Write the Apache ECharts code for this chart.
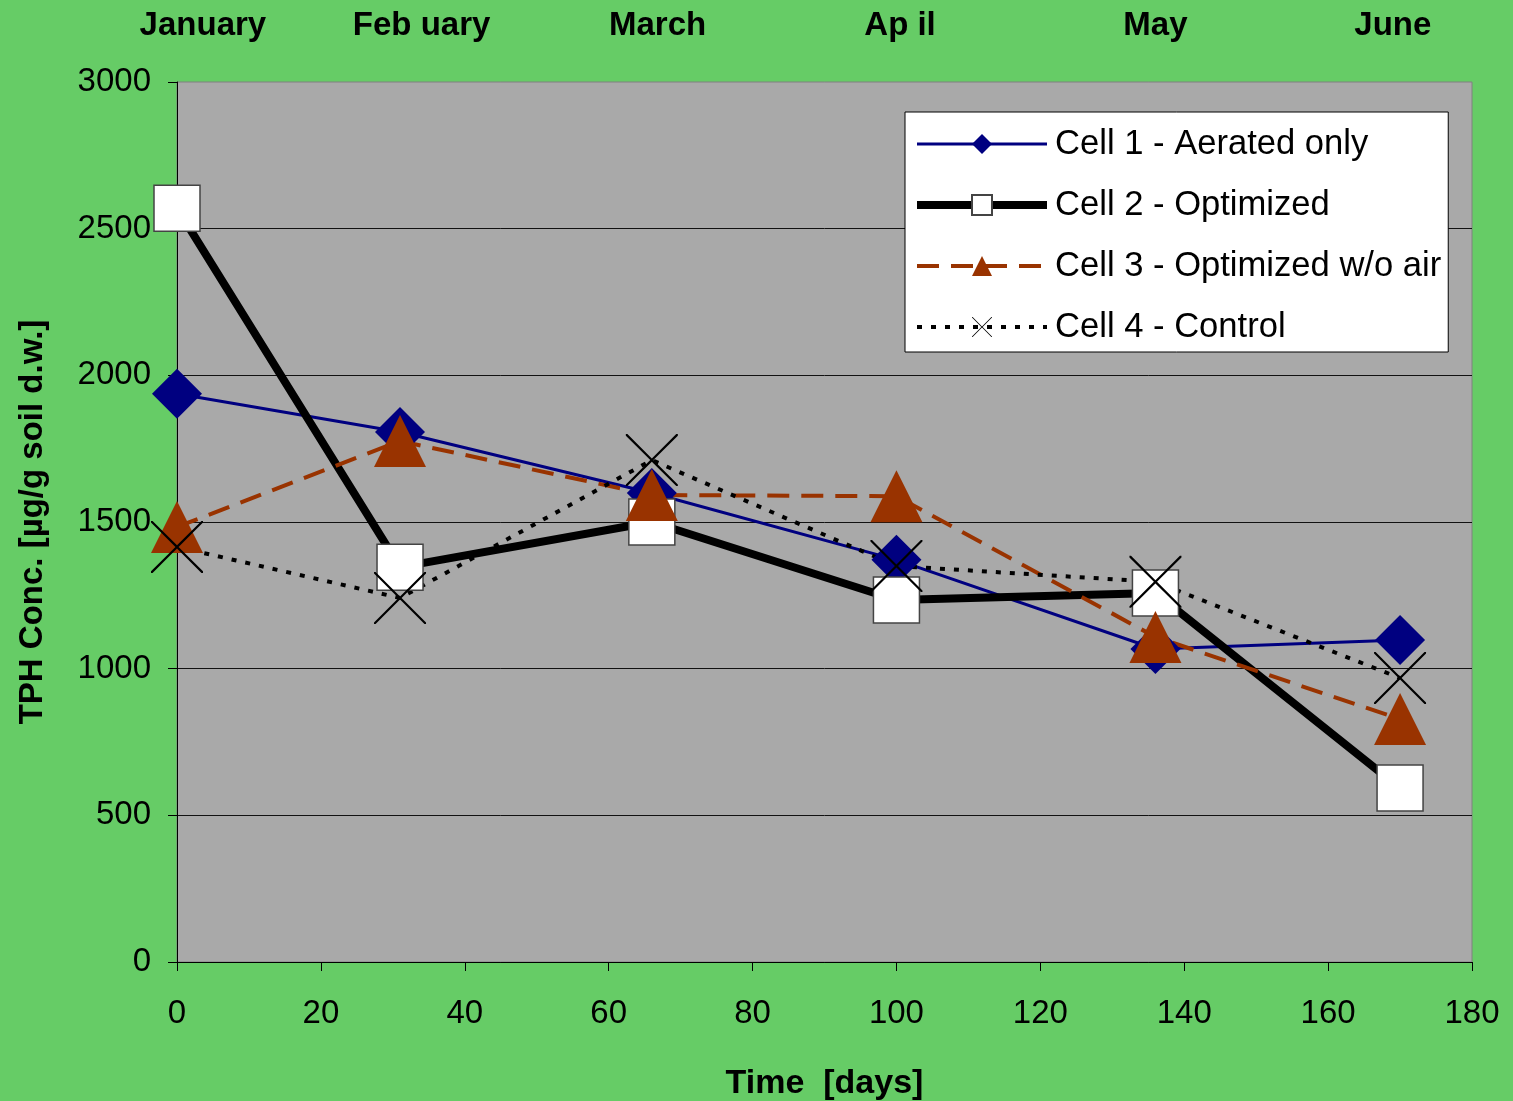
<!DOCTYPE html>
<html>
<head>
<meta charset="utf-8">
<script src="https://cdn.jsdelivr.net/npm/echarts@6/dist/echarts.min.js"></script>
<style>
html,body{margin:0;padding:0;background:#66CC66;}
#chart{width:1513px;height:1101px;}
</style>
</head>
<body>
<div id="chart"></div>
<script>
// ---- data ----
const days = [0, 31, 66, 100, 136, 170];
const cell1 = [1937, 1807, 1599, 1371, 1067, 1098];
const cell2 = [2570, 1346, 1500, 1234, 1258, 593];
const cell3 = [1483, 1776, 1592, 1588, 1108, 828];
const cell4 = [1415, 1241, 1711, 1350, 1296, 968];
const seriesNames = ['Cell 1 - Aerated only', 'Cell 2 - Optimized', 'Cell 3 - Optimized w/o air', 'Cell 4 - Control'];
const monthNames = ['January', 'Feb uary', 'March', 'Ap il', 'May', 'June'];
const monthDays = [3.6, 34, 66.8, 100.5, 136, 169];
const xTicks = [0, 20, 40, 60, 80, 100, 120, 140, 160, 180];
const yTicks = [0, 500, 1000, 1500, 2000, 2500, 3000];

const FONT = 'Liberation Sans, Arial, sans-serif';
const crossPath = 'path://M0,0L3,0L50,47L97,0L100,0L100,3L53,50L100,97L100,100L97,100L50,53L3,100L0,100L0,97L47,50L0,3Z';

const lineStyles = [
  {color: '#000080', width: 3, type: 'solid'},
  {color: '#000000', width: 8, type: 'solid'},
  {color: '#993300', width: 4, type: [22, 12]},
  {color: '#000000', width: 4, type: [5, 9]}
];

function pts(vals) { return days.map((d, i) => [d, vals[i]]); }

const chart = echarts.init(document.getElementById('chart'), null, {renderer: 'canvas'});
chart.setOption({
  animation: false,
  backgroundColor: '#66CC66',
  textStyle: {fontFamily: FONT},
  grid: {
    left: 177, right: 41, top: 82, bottom: 139,
    show: true, backgroundColor: '#A9A9A9', borderColor: '#808080', borderWidth: 1,
    containLabel: false, outerBoundsMode: 'none'
  },
  legend: {
    left: 905, top: 112,
    orient: 'vertical',
    backgroundColor: '#FFFFFF',
    borderColor: '#000000', borderWidth: 1,
    padding: [14, 7, 7, 8],
    itemWidth: 130, itemHeight: 25, itemGap: 25,
    textStyle: {fontFamily: FONT, fontSize: 34.6, color: '#000', lineHeight: 36, padding: [0, 0, 0, 3]},
    data: seriesNames.map((n, i) => ({name: n, lineStyle: lineStyles[i]}))
  },
  xAxis: [{
    type: 'value', min: xTicks[0], max: xTicks[xTicks.length - 1], interval: 20,
    position: 'bottom',
    axisLine: {show: true, onZero: false, lineStyle: {color: '#000', width: 1}},
    axisTick: {show: true, inside: false, length: 9, lineStyle: {color: '#000'}},
    axisLabel: {color: '#000', fontSize: 33, fontFamily: FONT, margin: 35},
    splitLine: {show: false},
    name: 'Time  [days]', nameLocation: 'middle', nameGap: 105,
    nameTextStyle: {color: '#000', fontSize: 34, fontWeight: 'bold', fontFamily: FONT}
  }, {
    type: 'value', min: 0, max: 180,
    position: 'top',
    axisLine: {show: false}, axisTick: {show: false}, splitLine: {show: false},
    axisLabel: {
      show: true, color: '#000', fontSize: 33, fontWeight: 'bold', fontFamily: FONT, margin: 40,
      customValues: monthDays,
      formatter: function (v) { const i = monthDays.indexOf(v); return i >= 0 ? monthNames[i] : ''; }
    }
  }],
  yAxis: {
    type: 'value', min: yTicks[0], max: yTicks[yTicks.length - 1], interval: 500,
    axisLine: {show: true, lineStyle: {color: '#000', width: 1}},
    axisTick: {show: true, inside: false, length: 9, lineStyle: {color: '#000'}},
    axisLabel: {color: '#000', fontSize: 33, fontFamily: FONT, margin: 26, formatter: v => String(v)},
    splitLine: {show: true, showMaxLine: false, lineStyle: {color: '#111', width: 1}},
    name: 'TPH Conc. [µg/g soil d.w.]', nameLocation: 'middle', nameGap: 128,
    nameTextStyle: {color: '#000', fontSize: 33, fontWeight: 'bold', fontFamily: FONT}
  },
  series: [{
    name: seriesNames[0], type: 'line', data: pts(cell1),
    symbol: 'diamond', symbolSize: 50,
    lineStyle: lineStyles[0],
    itemStyle: {color: '#000080'}
  }, {
    name: seriesNames[1], type: 'line', data: pts(cell2),
    symbol: 'rect', symbolSize: 46,
    lineStyle: lineStyles[1],
    itemStyle: {color: '#FFFFFF', borderColor: '#444', borderWidth: 1.5}
  }, {
    name: seriesNames[2], type: 'line', data: pts(cell3),
    symbol: 'triangle', symbolSize: 52,
    lineStyle: lineStyles[2],
    itemStyle: {color: '#993300'}
  }, {
    name: seriesNames[3], type: 'line', data: pts(cell4),
    symbol: crossPath, symbolSize: 52,
    lineStyle: lineStyles[3],
    itemStyle: {color: '#000000'}
  }]
});
</script>
</body>
</html>
